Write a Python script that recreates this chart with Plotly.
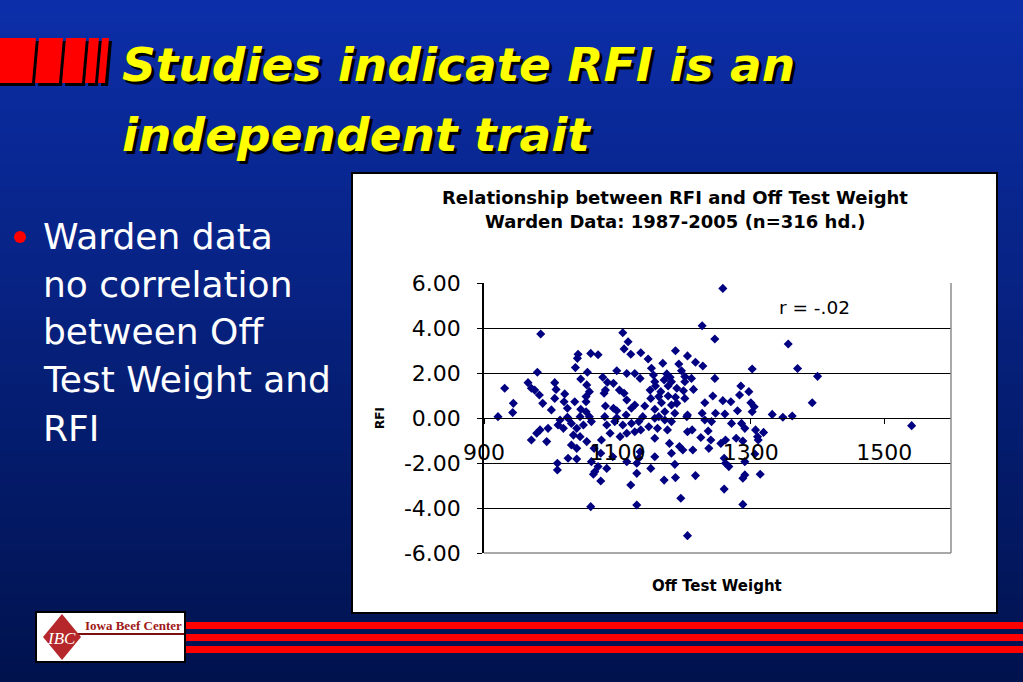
import plotly.graph_objects as go

W, H = 1023, 682

# ---- data: Off Test Weight (lb) and RFI ----
weight = [
    985, 1108, 1116, 1110, 1120, 1041, 1040, 1060, 1071, 980, 1037, 1055, 1099, 1114, 1126,
    1045, 966, 1006, 1054, 1078, 1085, 1094, 931, 971, 976, 1008, 1058, 1082, 1103, 1110,
    983, 1021, 1006, 1053, 1080, 1114, 944, 988, 1020, 1036, 1053, 1126, 943, 1001, 1025,
    1045, 1053, 1082, 1094, 1099, 1121, 921, 1025, 1044, 1058, 1081, 1099, 1113,
    1258, 1227, 1246, 1356, 1135, 1187, 1146, 1205, 1168, 1192, 1217, 1228, 1151, 1196, 1302,
    1154, 1174, 1179, 1201, 1211, 1246, 1134, 1156, 1170, 1181, 1201, 1157, 1176, 1189, 1214,
    1199, 1285, 1297, 1149, 1165, 1162, 1176, 1187, 1201, 1150, 1243, 1283, 1141, 1166, 1181,
    1189, 1231, 1258, 1270, 1300, 1305, 1280, 1302, 1156, 1171, 1186, 1205, 1227, 1247, 1261,
    1332, 1348, 1362, 1138, 1162,
    1014, 1026, 1011, 1019, 1031, 1039, 1049, 1061, 1084, 1096, 1108, 1121, 984, 996, 979,
    971, 994, 1034, 1044, 1054, 1031, 1039, 1065, 1076, 1089, 1104, 1114, 1126, 1075, 1093,
    1114, 1026, 1039, 1010, 1010, 1061, 1071, 1084, 1066, 1064, 1075, 1129, 1120, 1060, 1129,
    1129,
    1132, 1156, 1171, 1181, 1204, 1231, 1241, 1271, 1286, 1291, 1135, 1147, 1160, 1175, 1205,
    1212, 1236, 1307, 1319, 1310, 1278, 1288, 1225, 1240, 1156, 1178, 1193, 1198, 1213, 1237,
    1255, 1262, 1134, 1156, 1181, 1132, 1186, 1260, 1262, 1267, 1291, 1150, 1217, 1170, 1187,
    1291, 1288, 1314, 1260, 1195, 1288, 1205,
    1311, 1306, 1392, 1541, 1370, 1400,
]
rfi = [
    3.73, 3.79, 3.39, 3.07, 2.83, 2.83, 2.65, 2.87, 2.81, 2.03, 2.24, 2.03, 2.10, 1.98, 1.98,
    1.73, 1.57, 1.57, 1.47, 1.81, 1.59, 1.54, 1.32, 1.32, 1.24, 1.27, 1.17, 1.24, 1.24, 1.10,
    1.02, 1.07, 0.87, 0.95, 1.10, 0.80, 0.65, 0.65, 0.72, 0.72, 0.72, 0.58, 0.24, 0.36, 0.43,
    0.39, 0.28, 0.53, 0.43, 0.32, 0.43, 0.06, 0.03, 0.06, 0.06, 0.06, 0.01, 0.13,
    5.76, 4.10, 3.51, 3.29, 2.90, 2.99, 2.62, 2.76, 2.43, 2.40, 2.48, 2.31, 2.21, 2.10, 2.18,
    1.91, 1.96, 1.81, 1.84, 1.76, 1.76, 1.76, 1.61, 1.69, 1.61, 1.61, 1.42, 1.42, 1.32, 1.27,
    1.21, 1.42, 1.17, 1.24, 1.17, 0.95, 0.98, 0.92, 0.87, 0.87, 0.98, 1.02, 0.53, 0.68, 0.58,
    0.65, 0.68, 0.77, 0.72, 0.68, 0.50, 0.32, 0.28, 0.39, 0.28, 0.21, 0.13, 0.21, 0.21, 0.18,
    0.16, 0.03, 0.09, 0.06, 0.06,
    -0.09, -0.01, -0.31, -0.46, -0.24, -0.46, -0.31, -0.16, -0.31, -0.16, -0.31, -0.24, -0.53, -0.46, -0.68,
    -0.98, -1.05, -0.76, -0.83, -1.05, -1.20, -1.35, -1.35, -0.98, -0.68, -0.83, -0.68, -0.61, -1.57, -1.72,
    -1.94, -1.79, -1.82, -2.01, -2.31, -1.94, -2.16, -2.24, -2.39, -2.50, -2.80, -2.46, -2.98, -3.94, -3.87,
    -2.01,
    -0.16, -0.01, -0.09, -0.16, 0.06, -0.09, -0.16, -0.24, -0.24, -0.46, -0.53, -0.39, -0.46, -0.53, -0.61,
    -0.53, -0.58, -0.53, -0.64, -0.83, -0.90, -1.02, -0.87, -0.98, -0.90, -1.13, -1.27, -1.42, -1.42, -1.35,
    -1.13, -0.98, -1.50, -1.72, -1.57, -1.79, -2.06, -1.79, -2.01, -2.16, -1.94, -2.24, -2.56, -2.76, -2.65,
    -2.53, -2.68, -2.50, -3.16, -3.57, -3.84, -5.23,
    -0.98, -1.60, 0.68, -0.34, 2.20, 1.85,
]

x_ticks = [900, 1100, 1300, 1500]
y_ticks = [-6, -4, -2, 0, 2, 4, 6]
y_ticktext = [f"{v:.2f}" for v in y_ticks]

slide_title = ["Studies indicate RFI is an", "independent trait"]
bullet_lines = ["Warden data", "no correlation", "between Off", "Test Weight and", "RFI"]
chart_title = ["Relationship between RFI and Off Test Weight", "Warden Data: 1987-2005 (n=316 hd.)"]
r_label = "r = -.02"
x_title = "Off Test Weight"
y_title = "RFI"


def px(x):
    return x / W


def py(y):
    return 1 - y / H


# plot area in pixels
PL, PR, PT, PB = 484, 951, 283, 553

shapes = []
# slide background gradient
top_c = (12, 46, 168)
bot_c = (0, 18, 78)
nb = 62
for i in range(nb):
    t = i / (nb - 1)
    c = tuple(round(top_c[k] + (bot_c[k] - top_c[k]) * t) for k in range(3))
    y0 = H * i / nb
    y1 = H * (i + 1) / nb + 1
    shapes.append(dict(type="rect", xref="paper", yref="paper", x0=0, x1=1,
                       y0=py(y1), y1=py(y0), line=dict(width=0),
                       fillcolor=f"rgb{c}", layer="below"))

# red bars top-left (with black shadow)
bars = [(-4, 32), (35, 59), (62, 82), (85, 95), (98, 105)]
BT, BB, SL = 38, 83, 4
for (a, b) in bars:
    for off, col in ((3, "black"), (0, "#ff0000")):
        path = (f"M {px(a + off)} {py(BB + off)} L {px(b + off)} {py(BB + off)} "
                f"L {px(b + SL + off)} {py(BT + off)} L {px(a + SL + off)} {py(BT + off)} Z")
        shapes.append(dict(type="path", xref="paper", yref="paper", path=path,
                           fillcolor=col, line=dict(width=0), layer="below"))

# bullet dot
shapes.append(dict(type="circle", xref="paper", yref="paper",
                   x0=px(14), x1=px(26), y0=py(243), y1=py(231),
                   fillcolor="#ff0000", line=dict(width=0), layer="below"))

# chart card
shapes.append(dict(type="rect", xref="paper", yref="paper",
                   x0=px(352), x1=px(997), y0=py(613), y1=py(173),
                   fillcolor="white", line=dict(color="black", width=2), layer="below"))

# plot area right / bottom border (grey)
shapes.append(dict(type="line", xref="paper", yref="paper", x0=px(PR), x1=px(PR),
                   y0=py(PB), y1=py(PT), line=dict(color="#8c8c8c", width=1.5), layer="above"))
shapes.append(dict(type="line", xref="paper", yref="paper", x0=px(PL), x1=px(PR),
                   y0=py(PB), y1=py(PB), line=dict(color="#8c8c8c", width=1.5), layer="above"))

# footer red stripes
for (s0, s1) in ((622, 629), (634, 641), (646, 653)):
    shapes.append(dict(type="rect", xref="paper", yref="paper", x0=px(186), x1=1,
                       y0=py(s1), y1=py(s0), fillcolor="#ff0000", line=dict(width=0), layer="below"))

# logo
shapes.append(dict(type="rect", xref="paper", yref="paper", x0=px(36), x1=px(185),
                   y0=py(662), y1=py(612), fillcolor="white",
                   line=dict(color="black", width=2), layer="below"))
shapes.append(dict(type="line", xref="paper", yref="paper", x0=px(70), x1=px(184),
                   y0=py(634), y1=py(634), line=dict(color="#7a1010", width=2), layer="below"))
dpath = (f"M {px(62)} {py(614)} L {px(81)} {py(637)} L {px(62)} {py(660)} "
         f"L {px(43)} {py(637)} Z")
shapes.append(dict(type="path", xref="paper", yref="paper", path=dpath,
                   fillcolor="#b5272a", line=dict(width=0), layer="below"))

annotations = []


def ann(text, x, y, size, color, family="DejaVu Sans", xanchor="left", yanchor="middle",
        angle=0, shadow="none"):
    annotations.append(dict(text=text, x=px(x), y=py(y), xref="paper", yref="paper",
                            xanchor=xanchor, yanchor=yanchor, showarrow=False,
                            textangle=angle,
                            font=dict(family=family, size=size, color=color, shadow=shadow)))


# slide title with drop shadow
title_y = [64, 134]
for line, yy in zip(slide_title, title_y):
    ann(f"<b><i>{line}</i></b>", 120, yy, 47, "#ffff00", shadow="3px 3px 0px #000000")

# bullet text
bullet_y = [236, 284, 331, 380, 428]
for line, yy in zip(bullet_lines, bullet_y):
    ann(line, 41, yy, 36, "white")

# chart texts
ann(f"<b>{chart_title[0]}</b>", 675, 198, 18, "black", xanchor="center")
ann(f"<b>{chart_title[1]}</b>", 675, 222, 18, "black", xanchor="center")
ann(r_label, 777, 307, 18.5, "black")
ann(f"<b>{x_title}</b>", 717, 586, 15, "black", xanchor="center")
ann(f"<b>{y_title}</b>", 380, 418, 12, "black", xanchor="center", angle=-90)

# logo texts
ann("<b>Iowa Beef Center</b>", 133, 625, 13, "#a01818", family="Liberation Serif", xanchor="center")
ann("<i>IBC</i>", 61, 638, 17, "white", family="Liberation Serif", xanchor="center")

fig = go.Figure(go.Scatter(
    x=weight, y=rfi, mode="markers",
    marker=dict(symbol="diamond", size=7, color="#000080", line=dict(width=0)),
    hoverinfo="x+y", showlegend=False,
))

fig.update_layout(
    width=W, height=H,
    autosize=False,
    margin=dict(l=0, r=0, t=0, b=0, pad=0),
    paper_bgcolor="rgb(0,18,78)",
    plot_bgcolor="rgba(0,0,0,0)",
    shapes=shapes,
    annotations=annotations,
    xaxis=dict(
        domain=[px(PL), px(PR)], range=[900, 1600],
        tickvals=x_ticks, ticktext=[str(v) for v in x_ticks],
        ticks="outside", ticklen=5, tickcolor="black",
        showline=True, linecolor="black", linewidth=1,
        showgrid=False, zeroline=False, automargin=False,
        anchor="free", position=(py(PT) + py(PB)) / 2,
        tickfont=dict(family="DejaVu Sans", size=22, color="black"),
        ticklabelstandoff=10,
    ),
    yaxis=dict(
        domain=[py(PB), py(PT)], range=[-6, 6],
        tickvals=y_ticks, ticktext=y_ticktext,
        ticks="outside", ticklen=5, tickcolor="black",
        showline=True, linecolor="black", linewidth=1.5,
        showgrid=True, gridcolor="black", gridwidth=1,
        zeroline=False, automargin=False,
        tickfont=dict(family="DejaVu Sans", size=22, color="black"),
        ticklabelstandoff=12,
    ),
)

fig.write_html("out.html", config={"responsive": False, "displayModeBar": False},
               post_script="document.body.style.margin='0';document.body.style.overflow='hidden';")
